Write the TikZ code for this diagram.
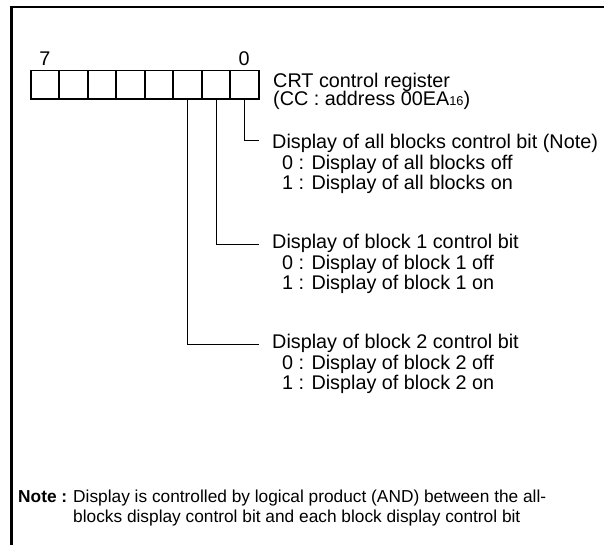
\documentclass[tikz,border=0pt]{standalone}
\usepackage{fontspec}
\setmainfont{Liberation Sans}
\begin{document}
\begin{tikzpicture}[x=1pt,y=-1pt,
  cell/.style={draw,line width=1.8pt,minimum width=28.5pt,minimum height=28.8pt,inner sep=0pt},
  txt/.style={anchor=base west,inner sep=0pt,font=\fontsize{19.8}{22}\selectfont},
  notetxt/.style={anchor=base west,inner sep=0pt,font=\fontsize{17.3}{20}\selectfont},
  bitno/.style={anchor=base,inner sep=0pt,font=\fontsize{19.8}{22}\selectfont},
  lead/.style={line width=0.9pt}]
\useasboundingbox (0,0) rectangle (604,544);
% frame
\draw[line width=2.5pt] (11.3,560) -- (11.3,7) -- (620,7);
% register cells
\foreach \k in {0,...,7}{
  \pgfmathtruncatemacro{\b}{7-\k}
  \node[cell] (b\b) at ({30.7+28.5*(\k+0.5)},84.9) {};
}
\node[bitno] (n7) at (45,65) {7};
\node[bitno] (n0) at (244.2,65) {0};
\node[txt] (reg1) at (273,87) {CRT control register};
\node[txt] (reg2) at (273,105) {(CC : address 00EA{\fontsize{12.8}{12}\selectfont\raisebox{-0.8pt}{16}})};
% bit 0
\coordinate (s0) at (258.5,140.5);
\draw[lead] (b0.south) |- (s0);
\node[txt] (t0) at (272,148.5) {Display of all blocks control bit (Note)};
\node[txt] (t0a) at (282,169.5) {0 : Display of all blocks off};
\node[txt] (t0b) at (282,189.5) {1 : Display of all blocks on};
% bit 1
\coordinate (s1) at (258.5,244.5);
\draw[lead] (b1.south) |- (s1);
\node[txt] (t1) at (272,248.5) {Display of block 1 control bit};
\node[txt] (t1a) at (282,269.5) {0 : Display of block 1 off};
\node[txt] (t1b) at (282,289.5) {1 : Display of block 1 on};
% bit 2
\coordinate (s2) at (258.5,344.5);
\draw[lead] (b2.south) |- (s2);
\node[txt] (t2) at (272,348.5) {Display of block 2 control bit};
\node[txt] (t2a) at (282,369.5) {0 : Display of block 2 off};
\node[txt] (t2b) at (282,389.5) {1 : Display of block 2 on};
% note
\node[notetxt,font=\fontsize{17.3}{20}\selectfont\bfseries] (note) at (18,502) {Note :};
\node[notetxt] (nt1) at (73,502) {Display is controlled by logical product (AND) between the all-};
\node[notetxt] (nt2) at (73,522) {blocks display control bit and each block display control bit};
\end{tikzpicture}
\end{document}
